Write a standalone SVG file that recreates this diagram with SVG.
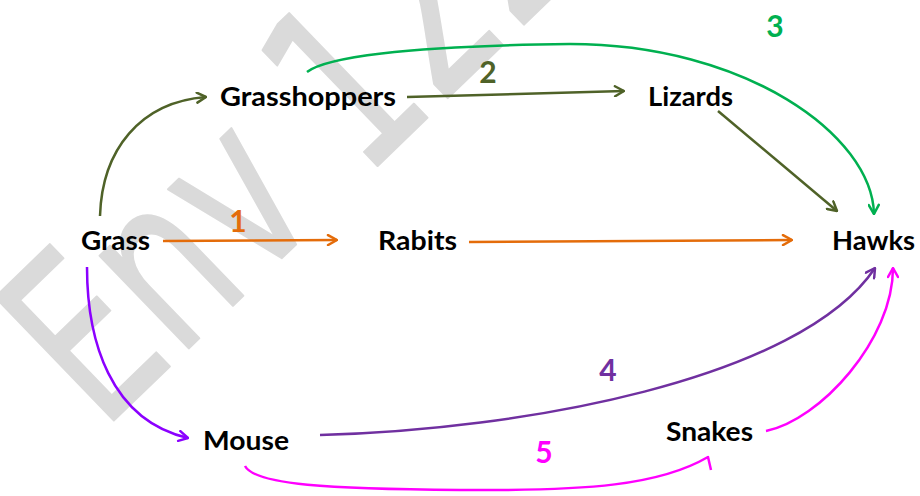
<svg xmlns="http://www.w3.org/2000/svg" width="920" height="496" viewBox="0 0 920 496">
  <style>
    .node { font-family: Lato, "Open Sans", "Liberation Sans", sans-serif; font-weight: 700; font-size: 27px; fill: #000; }
    .num { font-family: Lato, "Open Sans", "Liberation Sans", sans-serif; font-weight: 700; font-size: 30px; text-anchor: middle; }
    .edge { fill: none; stroke-width: 2.5; stroke-linecap: butt; }
    .wm { font-family: "DejaVu Sans", "Liberation Sans", sans-serif; font-size: 235px; fill: #dadada; stroke: #dadada; stroke-width: 2; stroke-linejoin: round; }
  </style>
  <defs>
    <marker id="m-olive" viewBox="0 0 12 12" refX="11" refY="6" markerWidth="12" markerHeight="12" markerUnits="userSpaceOnUse" orient="auto">
      <path d="M2,1 L11,6 L2,11" fill="none" stroke="#4F6228" stroke-width="2.5" stroke-linecap="round" stroke-linejoin="round"/>
    </marker>
    <marker id="m-green" viewBox="0 0 12 12" refX="11" refY="6" markerWidth="12" markerHeight="12" markerUnits="userSpaceOnUse" orient="auto">
      <path d="M2,1 L11,6 L2,11" fill="none" stroke="#00B050" stroke-width="2.5" stroke-linecap="round" stroke-linejoin="round"/>
    </marker>
    <marker id="m-orange" viewBox="0 0 12 12" refX="11" refY="6" markerWidth="12" markerHeight="12" markerUnits="userSpaceOnUse" orient="auto">
      <path d="M2,1 L11,6 L2,11" fill="none" stroke="#E46C0A" stroke-width="2.5" stroke-linecap="round" stroke-linejoin="round"/>
    </marker>
    <marker id="m-violet" viewBox="0 0 12 12" refX="11" refY="6" markerWidth="12" markerHeight="12" markerUnits="userSpaceOnUse" orient="auto">
      <path d="M2,1 L11,6 L2,11" fill="none" stroke="#8B00FF" stroke-width="2.5" stroke-linecap="round" stroke-linejoin="round"/>
    </marker>
    <marker id="m-purple" viewBox="0 0 12 12" refX="11" refY="6" markerWidth="12" markerHeight="12" markerUnits="userSpaceOnUse" orient="auto">
      <path d="M2,1 L11,6 L2,11" fill="none" stroke="#7030A0" stroke-width="2.5" stroke-linecap="round" stroke-linejoin="round"/>
    </marker>
    <marker id="m-magenta" viewBox="0 0 12 12" refX="11" refY="6" markerWidth="12" markerHeight="12" markerUnits="userSpaceOnUse" orient="auto">
      <path d="M2,1 L11,6 L2,11" fill="none" stroke="#FF00FF" stroke-width="2.5" stroke-linecap="round" stroke-linejoin="round"/>
    </marker>
  </defs>

  <rect width="920" height="496" fill="#fff"/>

  <g id="watermark">
    <text class="wm" transform="translate(102,432) rotate(-44)" x="0" y="0" textLength="680" lengthAdjust="spacingAndGlyphs">Env 122</text>
  </g>

  <g id="connectors">
    <path class="edge" stroke="#4F6228" d="M100,216 C102,150 140,102 206,97" marker-end="url(#m-olive)"/>
    <path class="edge" stroke="#4F6228" d="M407,97 L624,91" marker-end="url(#m-olive)"/>
    <path class="edge" stroke="#4F6228" d="M718,111 L837,211" marker-end="url(#m-olive)"/>
    <path class="edge" stroke="#00B050" d="M307,72 C325,58 400,46 570,44 C745,44 872,135 874,214" marker-end="url(#m-green)"/>
    <path class="edge" stroke="#E46C0A" d="M163,241 L337,240" marker-end="url(#m-orange)"/>
    <path class="edge" stroke="#E46C0A" d="M469,242 L792,240" marker-end="url(#m-orange)"/>
    <path class="edge" stroke="#8B00FF" d="M87,267 C87,340 110,420 188,438" marker-end="url(#m-violet)"/>
    <path class="edge" stroke="#7030A0" d="M320,435 C520,430 800,380 875,268" marker-end="url(#m-purple)"/>
    <path class="edge" stroke="#FF00FF" stroke-linejoin="round" d="M245,466 C255,485 330,489 460,490 C590,491 660,485 708,457 L711,470"/>
    <path class="edge" stroke="#FF00FF" d="M766,431 C820,420 893,340 893,268" marker-end="url(#m-magenta)"/>
    <text class="num" x="238" y="232" fill="#E46C0A">1</text>
    <text class="num" x="488" y="83" fill="#4F6228">2</text>
    <text class="num" x="775" y="37" fill="#00B050">3</text>
    <text class="num" x="608" y="381" fill="#7030A0">4</text>
    <text class="num" x="544" y="463" fill="#FF00FF">5</text>
  </g>

  <g id="grass"><text class="node" x="81" y="250" textLength="69" lengthAdjust="spacingAndGlyphs">Grass</text></g>
  <g id="grasshoppers"><text class="node" x="220" y="106" textLength="176" lengthAdjust="spacingAndGlyphs">Grasshoppers</text></g>
  <g id="lizards"><text class="node" x="648" y="106" textLength="85" lengthAdjust="spacingAndGlyphs">Lizards</text></g>
  <g id="rabits"><text class="node" x="378" y="250" textLength="79" lengthAdjust="spacingAndGlyphs">Rabits</text></g>
  <g id="hawks"><text class="node" x="832" y="250" textLength="83" lengthAdjust="spacingAndGlyphs">Hawks</text></g>
  <g id="mouse"><text class="node" x="203" y="450" textLength="86" lengthAdjust="spacingAndGlyphs">Mouse</text></g>
  <g id="snakes"><text class="node" x="666" y="441" textLength="87" lengthAdjust="spacingAndGlyphs">Snakes</text></g>
</svg>
